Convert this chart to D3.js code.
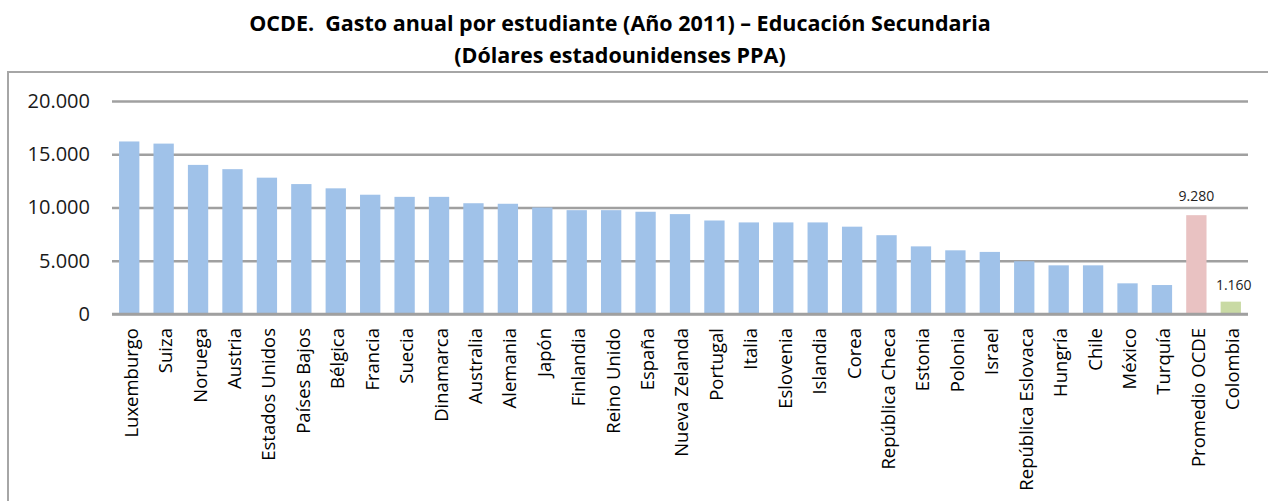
<!DOCTYPE html>
<html>
<head>
<meta charset="utf-8">
<script src="https://cdn.jsdelivr.net/npm/d3@7"></script>
<style>
  body { margin: 0; background: #fff; }
  svg { display: block; font-family: "Open Sans", sans-serif; }
</style>
</head>
<body>
<svg id="chart" width="1268" height="501"></svg>
<script>
// gasto anual por estudiante, secundaria 2011 (USD PPA)
const paises = ["Luxemburgo", "Suiza", "Noruega", "Austria", "Estados Unidos", "Países Bajos",
  "Bélgica", "Francia", "Suecia", "Dinamarca", "Australia", "Alemania", "Japón", "Finlandia",
  "Reino Unido", "España", "Nueva Zelanda", "Portugal", "Italia", "Eslovenia", "Islandia",
  "Corea", "República Checa", "Estonia", "Polonia", "Israel", "República Eslovaca", "Hungría",
  "Chile", "México", "Turquía", "Promedio OCDE", "Colombia"];
const gasto = [16200, 16000, 14000, 13600, 12800, 12200, 11800, 11200, 11000, 11000, 10400,
  10350, 10000, 9750, 9750, 9600, 9380, 8780, 8600, 8600, 8600, 8200, 7400, 6350, 5980,
  5830, 4950, 4570, 4570, 2880, 2720, 9280, 1160];
const yTicks = [0, 5000, 10000, 15000, 20000];
const etiquetas = {"Promedio OCDE": "9.280", "Colombia": "1.160"};
const titulo = ["OCDE.  Gasto anual por estudiante (Año 2011) – Educación Secundaria",
  "(Dólares estadounidenses PPA)"];

const svg = d3.select("#chart");

const x = d3.scaleBand()
  .domain(paises)
  .range([112, 1248])
  .paddingInner(0.41)
  .paddingOuter(0.205);

const y = d3.scaleLinear()
  .domain([0, 20000])
  .range([314, 101]);

const color = d => d === "Promedio OCDE" ? "#e9c2c2" : (d === "Colombia" ? "#c9daa4" : "#a0c2e9");
const fmt = v => d3.format(",")(v).replace(/,/g, ".");

// marco
svg.append("path")
  .attr("d", "M8,501 V72 H1268")
  .attr("fill", "none")
  .attr("stroke", "#a6a6a6")
  .attr("stroke-width", 2);

// titulo
svg.selectAll(".titulo")
  .data(titulo)
  .enter().append("text")
  .attr("class", "titulo")
  .attr("x", 620)
  .attr("y", (d, i) => 31 + i * 32)
  .attr("text-anchor", "middle")
  .style("font-size", "21.5px")
  .style("font-weight", "bold")
  .style("white-space", "pre")
  .style("fill", "#000")
  .text(d => d);

// eje y + grilla
const yAxis = svg.append("g")
  .attr("transform", "translate(112,0)")
  .call(d3.axisLeft(y).tickValues(yTicks).tickSize(-1136).tickPadding(22).tickFormat(fmt));
yAxis.select(".domain").remove();
yAxis.selectAll("line").attr("stroke", "#a0a0a0").attr("stroke-width", 2.5);
yAxis.selectAll("text")
  .style("font-size", "20px")
  .style("fill", "#1a1a1a")
  .style("font-family", "\"Open Sans\", sans-serif");

// barras
svg.selectAll(".bar")
  .data(paises)
  .enter().append("rect")
  .attr("class", "bar")
  .attr("x", d => x(d))
  .attr("width", x.bandwidth())
  .attr("y", (d, i) => y(gasto[i]))
  .attr("height", (d, i) => y(0) - y(gasto[i]))
  .attr("fill", d => color(d));

// eje x
const xAxis = svg.append("g")
  .attr("transform", "translate(0," + y(0) + ")")
  .call(d3.axisBottom(x).tickSize(0).tickPadding(0));
xAxis.select(".domain").attr("stroke", "#a0a0a0").attr("stroke-width", 2.5)
  .attr("d", "M112,0H1248");
xAxis.selectAll("text")
  .attr("transform", "rotate(-90)")
  .attr("x", -14)
  .attr("y", 2)
  .attr("dy", "0.35em")
  .style("text-anchor", "end")
  .style("font-size", "18.5px")
  .style("fill", "#000")
  .style("font-family", "\"Open Sans\", sans-serif");

// etiquetas de valor
svg.selectAll(".valor")
  .data(paises.filter(d => etiquetas[d]))
  .enter().append("text")
  .attr("class", "valor")
  .attr("x", d => x(d) + x.bandwidth() / 2 + (d === "Colombia" ? 3 : 0))
  .attr("y", d => y(gasto[paises.indexOf(d)]) - (d === "Colombia" ? 12 : 14))
  .attr("text-anchor", "middle")
  .style("font-size", "14px")
  .style("fill", "#222")
  .text(d => etiquetas[d]);
</script>
</body>
</html>
